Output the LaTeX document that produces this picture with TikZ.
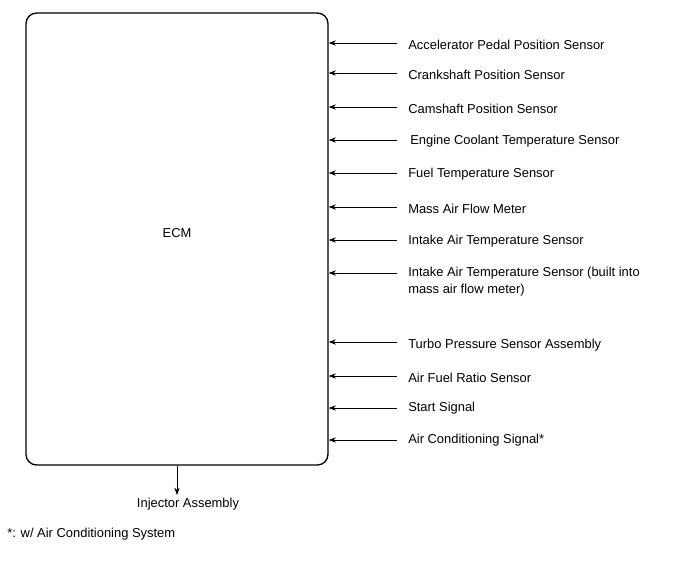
\documentclass[tikz,border=0pt]{standalone}
\usepackage{fontspec}
\setmainfont{Liberation Sans}
\usetikzlibrary{arrows.meta}
\begin{document}
\begin{tikzpicture}[x=0.75pt,y=-0.75pt,
  font=\fontsize{9.7}{12.75}\selectfont,
  lbl/.style={anchor=west,inner sep=0pt,align=left},
  arr/.style={-{Stealth[length=5.5pt,width=4pt]},line width=0.6pt},
  boxst/.style={draw,line width=1pt,rounded corners=8pt,minimum width=226.5pt,minimum height=339pt,inner sep=0pt}]
\useasboundingbox (0,0) rectangle (688,560);
\node[boxst] (ecm) at (177,239) {};
\node[inner sep=0pt] (ecmlbl) at (177,233) {ECM};
\node[lbl] (s1) at (408,44.5) {Accelerator Pedal Position Sensor};
\node[lbl] (s2) at (408,74.5) {Crankshaft Position Sensor};
\node[lbl] (s3) at (408,108.5) {Camshaft Position Sensor};
\node[lbl] (s4) at (410,141.5) {Engine Coolant Temperature Sensor};
\node[lbl] (s5) at (408,174.5) {Fuel Temperature Sensor};
\node[lbl] (s6) at (408,208.5) {Mass Air Flow Meter};
\node[lbl] (s7) at (408,241.5) {Intake Air Temperature Sensor};
\node[lbl,anchor=north west] (s8) at (408,266.5) {Intake Air Temperature Sensor (built into\\mass air flow meter)};
\node[lbl] (s9) at (408,345.5) {Turbo Pressure Sensor Assembly};
\node[lbl] (s10) at (408,377.5) {Air Fuel Ratio Sensor};
\node[lbl] (s11) at (408,408.5) {Start Signal};
\node[lbl] (s12) at (408,440.5) {Air Conditioning Signal*};
\foreach \i/\y in {1/43,2/73,3/107,4/140,5/173,6/207,7/240,8/273,9/342,10/376,11/408,12/440}{
  \coordinate (c\i) at (397,\y);
  \draw[arr] (c\i) -- (ecm.east |- c\i);
}
\node[inner sep=0pt] (inj) at (188,504) {Injector Assembly};
\draw[arr] (ecm.south -| 177,0) -- (177,495) coordinate (injtip);
\node[lbl] (foot) at (7,534) {*: w/ Air Conditioning System};
\end{tikzpicture}
\end{document}
